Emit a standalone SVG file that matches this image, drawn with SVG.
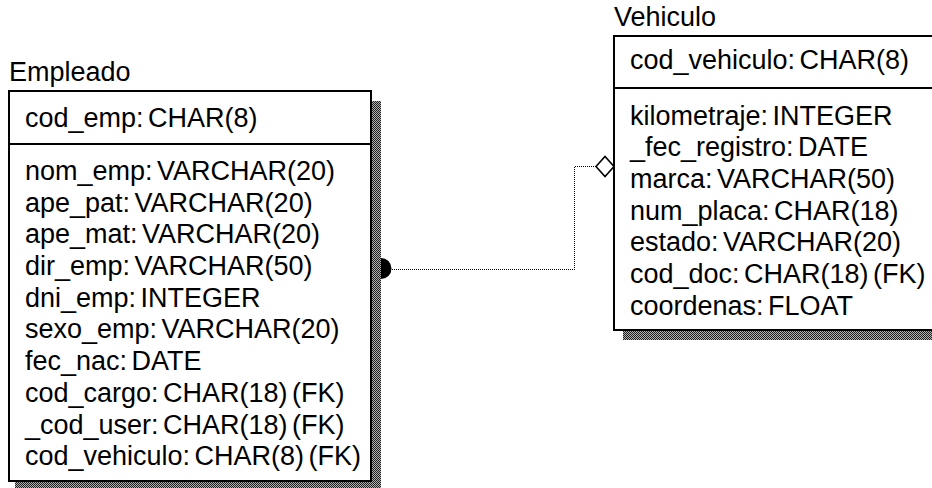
<svg xmlns="http://www.w3.org/2000/svg" width="932" height="488" viewBox="0 0 932 488">
<style>
text{font-family:"Liberation Sans",Arial,sans-serif;font-size:27px;fill:#000;word-spacing:-3px}
.box{fill:#fff;stroke:#000;stroke-width:2}
.div{stroke:#000;stroke-width:2}
.shadow{fill:url(#dither)}
.conn{fill:none;stroke:#000;stroke-width:1;stroke-dasharray:1 1}
</style>
<defs>
<pattern id="dither" width="2" height="2" patternUnits="userSpaceOnUse">
<rect width="2" height="2" fill="#b0b0b0"/>
<rect width="1" height="1" fill="#202020"/>
<rect x="1" y="1" width="1" height="1" fill="#202020"/>
</pattern>
</defs>
<g id="connectors">
<path class="conn" d="M392 269.5H574.5V166.5H596"/>
<path d="M381 258A10.5 10.5 0 0 1 381 279Z" fill="#000"/>
<path d="M596 166.5L605 156.5L614 166.5L605 176.5Z" fill="#fff" stroke="#000" stroke-width="1.6"/>
</g>
<g id="Empleado">
<rect class="shadow" x="15" y="101" width="366" height="388"/>
<rect class="box" x="9" y="91" width="362" height="390"/>
<line class="div" x1="9" y1="144" x2="371" y2="144"/>
<text x="9" y="81">Empleado</text>
<text x="25" y="127">cod_emp: CHAR(8)</text>
<text x="25" y="180">nom_emp: VARCHAR(20)</text>
<text x="25" y="212">ape_pat: VARCHAR(20)</text>
<text x="25" y="243">ape_mat: VARCHAR(20)</text>
<text x="25" y="275">dir_emp: VARCHAR(50)</text>
<text x="25" y="307">dni_emp: INTEGER</text>
<text x="25" y="338">sexo_emp: VARCHAR(20)</text>
<text x="25" y="370">fec_nac: DATE</text>
<text x="25" y="402">cod_cargo: CHAR(18) (FK)</text>
<text x="25" y="434">_cod_user: CHAR(18) (FK)</text>
<text x="25" y="465">cod_vehiculo: CHAR(8) (FK)</text>
</g>
<g id="Vehiculo">
<rect class="shadow" x="623" y="46" width="330" height="294"/>
<rect class="box" x="614" y="36" width="330" height="294"/>
<line class="div" x1="614" y1="88" x2="944" y2="88"/>
<text x="614" y="26">Vehiculo</text>
<text x="630" y="69">cod_vehiculo: CHAR(8)</text>
<text x="630" y="125">kilometraje: INTEGER</text>
<text x="630" y="156">_fec_registro: DATE</text>
<text x="630" y="188">marca: VARCHAR(50)</text>
<text x="630" y="220">num_placa: CHAR(18)</text>
<text x="630" y="251">estado: VARCHAR(20)</text>
<text x="630" y="283">cod_doc: CHAR(18) (FK)</text>
<text x="630" y="315">coordenas: FLOAT</text>
</g>
</svg>
